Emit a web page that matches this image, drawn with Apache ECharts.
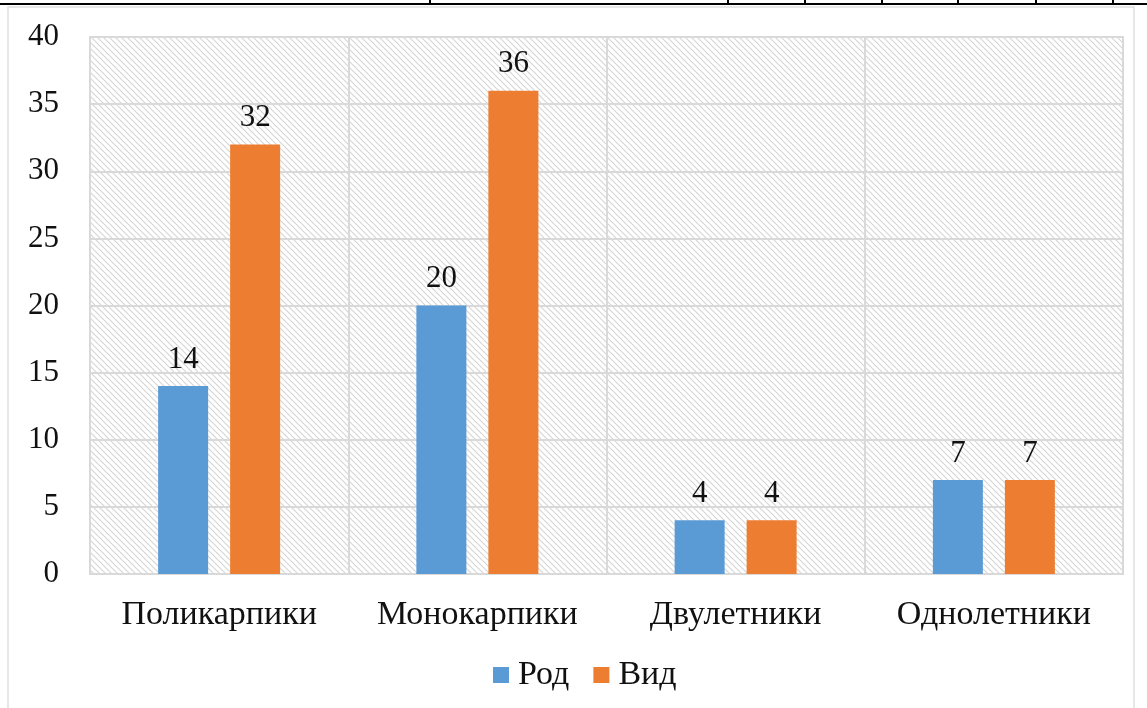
<!DOCTYPE html>
<html><head><meta charset="utf-8">
<script src="https://cdn.jsdelivr.net/npm/echarts@6/dist/echarts.min.js"></script>
<style>html,body{margin:0;padding:0;background:#fff}#c{width:1147px;height:708px}</style>
</head><body><div id="c"></div>
<script>
const categories = ['Поликарпики', 'Монокарпики', 'Двулетники', 'Однолетники'];
const rodValues = [14, 20, 4, 7];
const vidValues = [32, 36, 4, 7];
const seriesNames = ['Род', 'Вид'];
const yTicks = [0, 5, 10, 15, 20, 25, 30, 35, 40];

// hatch pattern
const pc = document.createElement('canvas');
pc.width = 6; pc.height = 6;
const g = pc.getContext('2d');
g.fillStyle = '#ffffff'; g.fillRect(0,0,6,6);
g.strokeStyle = '#d6d6d6'; g.lineWidth = 1.2;
g.beginPath();
g.moveTo(-1,-1); g.lineTo(7,7);
g.moveTo(-4,2); g.lineTo(4,10);
g.moveTo(2,-4); g.lineTo(10,4);
g.stroke();

const chart = echarts.init(document.getElementById('c'), null, {renderer:'canvas'});
const font = '"Liberation Serif","Times New Roman",serif';
const txt = '#111';
const topTicks = [430, 728, 805, 882, 958, 1036, 1113];
const graphics = [
  {type:'rect', shape:{x:8,y:7,width:1126,height:720}, style:{fill:'none', stroke:'#e0e0e0', lineWidth:1.5}, silent:true, z:-1},
  {type:'line', shape:{x1:0,y1:4,x2:1147,y2:4}, style:{stroke:'#000', lineWidth:2}, silent:true}
];
topTicks.forEach(x => graphics.push({type:'line', shape:{x1:x,y1:0,x2:x,y2:4}, style:{stroke:'#000', lineWidth:2}, silent:true}));

chart.setOption({
  animation:false,
  backgroundColor:'#fff',
  textStyle:{fontFamily:font},
  graphic: graphics,
  grid:{left:90, right:24, top:37, bottom:134, show:true,
        backgroundColor:{image:pc, repeat:'repeat'}, borderColor:'#d9d9d9', borderWidth:2},
  legend:{bottom:11, left:488, itemWidth:16, itemHeight:16, itemGap:24, icon:'rect',
          textStyle:{fontFamily:font, fontSize:34, color:txt, padding:[0,0,0,4]}, data:seriesNames},
  xAxis:{type:'category', data:categories,
         axisLine:{show:true, lineStyle:{color:'#d9d9d9', width:2}},
         axisTick:{show:false, interval:0},
         splitLine:{show:true, interval:0, lineStyle:{color:'#d9d9d9', width:2}},
         axisLabel:{interval:0, fontFamily:font, fontSize:34, color:txt, margin:24}},
  yAxis:{type:'value', min:yTicks[0], max:yTicks[yTicks.length-1], interval:5,
         axisLine:{show:false}, axisTick:{show:false},
         splitLine:{lineStyle:{color:'#d9d9d9', width:2}},
         axisLabel:{fontFamily:font, fontSize:31, color:txt, margin:31}},
  series:[
    {name:seriesNames[0], type:'bar', data:rodValues, barWidth:50, barGap:'44%',
     itemStyle:{color:'#5b9bd5'},
     label:{show:true, position:'top', distance:11, fontFamily:font, fontSize:31, color:txt}},
    {name:seriesNames[1], type:'bar', data:vidValues, barWidth:50, barGap:'44%',
     itemStyle:{color:'#ed7d31'},
     label:{show:true, position:'top', distance:11, fontFamily:font, fontSize:31, color:txt}}
  ]
});
</script></body></html>
